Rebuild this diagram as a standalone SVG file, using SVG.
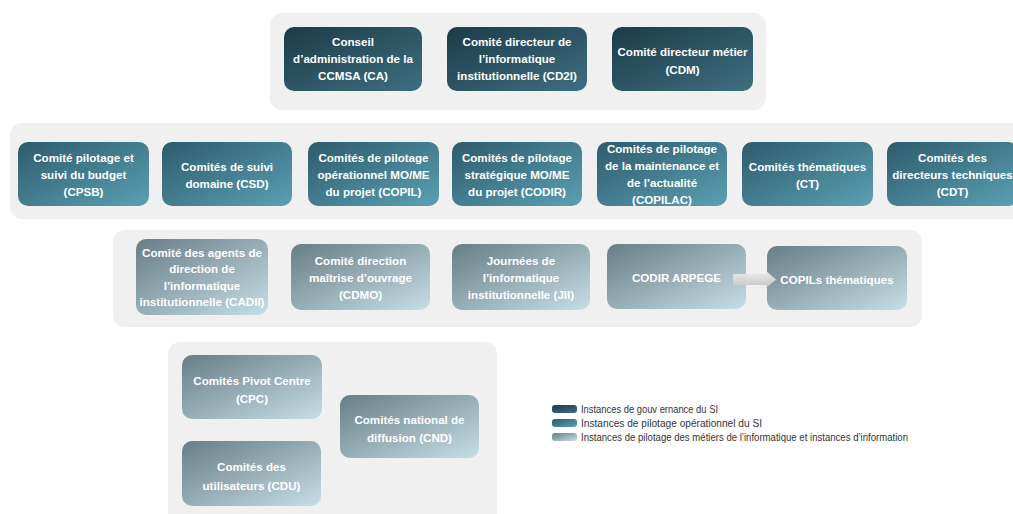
<svg xmlns="http://www.w3.org/2000/svg" width="1013" height="514" viewBox="0 0 1013 514">
<defs>
<linearGradient id="g1" x1="0" y1="0" x2="1" y2="1"><stop offset="0" stop-color="#1d3b47"/><stop offset="1" stop-color="#3d6f80"/></linearGradient>
<linearGradient id="g2" x1="0" y1="0" x2="1" y2="1"><stop offset="0" stop-color="#2d5b6c"/><stop offset="1" stop-color="#5c9fb4"/></linearGradient>
<linearGradient id="g3" x1="0" y1="0" x2="1" y2="1"><stop offset="0" stop-color="#687d85"/><stop offset="1" stop-color="#c6dee5"/></linearGradient>
<linearGradient id="ga" x1="0" y1="0" x2="0" y2="1"><stop offset="0" stop-color="#ececec"/><stop offset="1" stop-color="#c4c4c4"/></linearGradient>
</defs>
<style>
.panel{fill:#f0f0f0}
.n1{fill:url(#g1)}
.n2{fill:url(#g2)}
.n3{fill:url(#g3)}
.t{font-family:"Liberation Sans",Arial,sans-serif;font-size:11.6px;font-weight:bold;fill:#ffffff;text-anchor:middle}
.lg{font-family:"Liberation Sans",Arial,sans-serif;font-size:10.5px;fill:#333333}
</style>
<rect width="1013" height="514" fill="#ffffff"/>
<g id="panels">
<rect class="panel" x="270" y="13" width="496" height="97" rx="12"/>
<rect class="panel" x="10" y="123" width="1015" height="96" rx="12"/>
<rect class="panel" x="113" y="230" width="809" height="97" rx="12"/>
<rect class="panel" x="168" y="342" width="329" height="190" rx="12"/>
</g>
<g id="CA"><rect class="n1" x="284" y="27" width="138" height="64" rx="10"/><text class="t"><tspan x="353" y="46">Conseil</tspan><tspan x="353" y="63">d’administration de la</tspan><tspan x="353" y="80">CCMSA (CA)</tspan></text></g>
<g id="CD2I"><rect class="n1" x="447" y="27" width="140" height="64" rx="10"/><text class="t"><tspan x="517" y="46">Comité directeur de</tspan><tspan x="517" y="63">l’informatique</tspan><tspan x="517" y="80">institutionnelle (CD2I)</tspan></text></g>
<g id="CDM"><rect class="n1" x="612" y="27" width="141" height="64" rx="10"/><text class="t"><tspan x="682.5" y="56">Comité directeur métier</tspan><tspan x="682.5" y="74">(CDM)</tspan></text></g>
<g id="CPSB"><rect class="n2" x="18" y="142" width="131" height="64" rx="10"/><text class="t"><tspan x="83.5" y="162">Comité pilotage et</tspan><tspan x="83.5" y="179">suivi du budget</tspan><tspan x="83.5" y="196">(CPSB)</tspan></text></g>
<g id="CSD"><rect class="n2" x="162" y="142" width="130" height="64" rx="10"/><text class="t"><tspan x="227" y="171">Comités de suivi</tspan><tspan x="227" y="188">domaine (CSD)</tspan></text></g>
<g id="COPIL"><rect class="n2" x="308" y="142" width="131" height="64" rx="10"/><text class="t"><tspan x="373.5" y="162">Comités de pilotage</tspan><tspan x="373.5" y="179">opérationnel MO/ME</tspan><tspan x="373.5" y="196">du projet (COPIL)</tspan></text></g>
<g id="CODIR"><rect class="n2" x="452" y="142" width="130" height="64" rx="10"/><text class="t"><tspan x="517" y="162">Comités de pilotage</tspan><tspan x="517" y="179">stratégique MO/ME</tspan><tspan x="517" y="196">du projet (CODIR)</tspan></text></g>
<g id="COPILAC"><rect class="n2" x="597" y="142" width="130" height="64" rx="10"/><text class="t"><tspan x="662" y="153">Comités de pilotage</tspan><tspan x="662" y="170">de la maintenance et</tspan><tspan x="662" y="187">de l’actualité</tspan><tspan x="662" y="204">(COPILAC)</tspan></text></g>
<g id="CT"><rect class="n2" x="742" y="142" width="131" height="64" rx="10"/><text class="t"><tspan x="807.5" y="171">Comités thématiques</tspan><tspan x="807.5" y="188">(CT)</tspan></text></g>
<g id="CDT"><rect class="n2" x="887" y="142" width="131" height="64" rx="10"/><text class="t"><tspan x="952.5" y="162">Comités des</tspan><tspan x="952.5" y="179">directeurs techniques</tspan><tspan x="952.5" y="196">(CDT)</tspan></text></g>
<g id="CADII"><rect class="n3" x="136" y="239" width="132" height="76" rx="10"/><text class="t"><tspan x="202" y="257">Comité des agents de</tspan><tspan x="202" y="273">direction de</tspan><tspan x="202" y="290">l’informatique</tspan><tspan x="202" y="306">institutionnelle (CADII)</tspan></text></g>
<g id="CDMO"><rect class="n3" x="291" y="244" width="139" height="66" rx="10"/><text class="t"><tspan x="360.5" y="265">Comité direction</tspan><tspan x="360.5" y="282">maîtrise d’ouvrage</tspan><tspan x="360.5" y="299">(CDMO)</tspan></text></g>
<g id="JII"><rect class="n3" x="452" y="244" width="138" height="66" rx="10"/><text class="t"><tspan x="521" y="265">Journées de</tspan><tspan x="521" y="282">l’informatique</tspan><tspan x="521" y="299">institutionnelle (JII)</tspan></text></g>
<g id="CODIRARPEGE"><rect class="n3" x="607" y="244" width="139" height="65" rx="10"/><text class="t"><tspan x="676.5" y="282">CODIR ARPEGE</tspan></text></g>
<g id="COPILs"><rect class="n3" x="767" y="246" width="140" height="64" rx="10"/><text class="t"><tspan x="837" y="284">COPILs thématiques</tspan></text></g>
<g id="CPC"><rect class="n3" x="182" y="355" width="140" height="64" rx="10"/><text class="t"><tspan x="252" y="385">Comités Pivot Centre</tspan><tspan x="252" y="403">(CPC)</tspan></text></g>
<g id="CND"><rect class="n3" x="340" y="395" width="139" height="63" rx="10"/><text class="t"><tspan x="409.5" y="424">Comités national de</tspan><tspan x="409.5" y="442">diffusion (CND)</tspan></text></g>
<g id="CDU"><rect class="n3" x="182" y="441" width="139" height="65" rx="10"/><text class="t"><tspan x="251.5" y="471">Comités des</tspan><tspan x="251.5" y="490">utilisateurs (CDU)</tspan></text></g>
<g id="connectors">
<polygon points="733,274 766,274 766,271 776,279.5 766,288 766,285 733,285" fill="url(#ga)"/>
</g>
<g id="legend">
<rect class="n1" x="552" y="405" width="25" height="8" rx="3"/>
<rect class="n2" x="552" y="419" width="25" height="8" rx="3"/>
<rect class="n3" x="552" y="433" width="25" height="8" rx="3"/>
<text class="lg" x="581" y="413" textLength="137" lengthAdjust="spacingAndGlyphs">Instances de gouv ernance du SI</text>
<text class="lg" x="581" y="427" textLength="181" lengthAdjust="spacingAndGlyphs">Instances de pilotage opérationnel du SI</text>
<text class="lg" x="581" y="441" textLength="327" lengthAdjust="spacingAndGlyphs">Instances de pilotage des métiers de l’informatique et instances d’information</text>
</g>
</svg>
